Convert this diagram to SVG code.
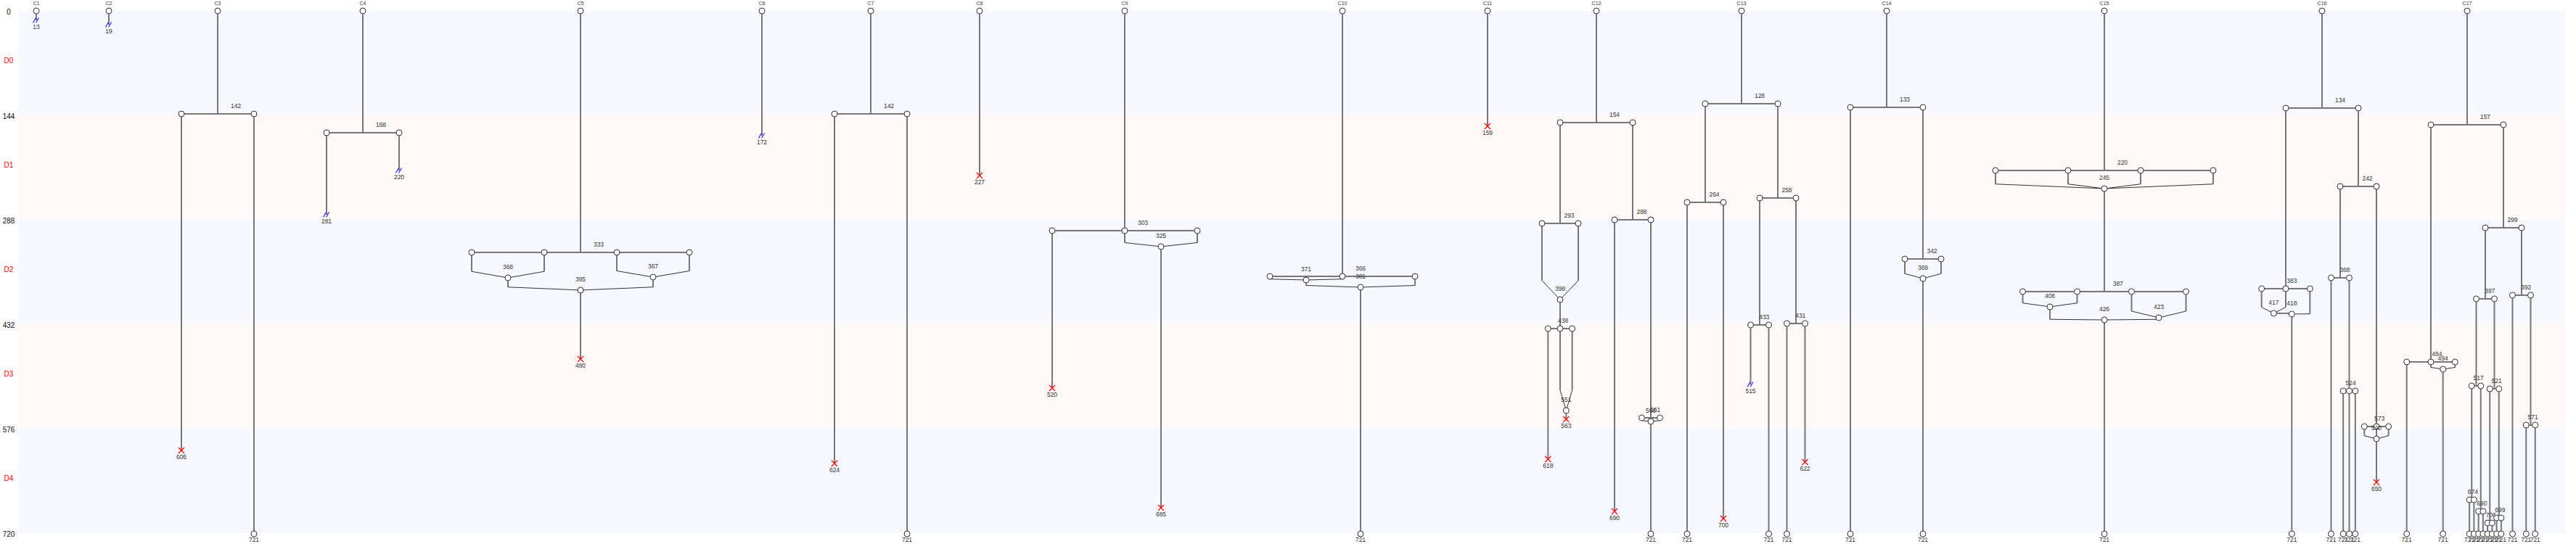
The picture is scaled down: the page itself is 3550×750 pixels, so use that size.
<svg xmlns="http://www.w3.org/2000/svg" width="3550" height="750" viewBox="0 0 3550 750">
<style>
.ba{fill:#f7f9ff}.bb{fill:#fffaf9}
.ln{stroke:#777;stroke-width:2;fill:none}
.mg{stroke:#333;stroke-width:1;fill:none}
.nd{fill:#fff;stroke:#333;stroke-width:1}
text{font-family:"Liberation Sans",Arial,sans-serif;text-anchor:middle}
.lb{font-size:8.5px;fill:#333}
.cl{font-size:7px;fill:#333}
.ax{font-size:10px;fill:#111}
.dx{font-size:10px;fill:#f00}
.sl{stroke:#22f;stroke-width:1.2;fill:none}
.cr{stroke:#f00;stroke-width:1.2;fill:none}
</style>
<defs>
<circle id="n" r="4" class="nd"/>
<path id="x" class="cr" d="M-4,-4L4,4M-4,4L4,-4"/>
<path id="s" class="sl" d="M-4.5,3.5L-0.5,-3.5M-0.5,3.5L3.5,-3.5"/>
</defs>
<g id="bands">
<rect class="ba" x="25" y="15" width="3510" height="144"/>
<rect class="bb" x="25" y="159" width="3510" height="144"/>
<rect class="ba" x="25" y="303" width="3510" height="144"/>
<rect class="bb" x="25" y="447" width="3510" height="144"/>
<rect class="ba" x="25" y="591" width="3510" height="144"/>
</g>
<g id="axis">
<text class="ax" x="12" y="19.5">0</text>
<text class="ax" x="12" y="163.5">144</text>
<text class="ax" x="12" y="307.5">288</text>
<text class="ax" x="12" y="451.5">432</text>
<text class="ax" x="12" y="595.5">576</text>
<text class="ax" x="12" y="739.5">720</text>
<text class="dx" x="12" y="87">D0</text>
<text class="dx" x="12" y="231">D1</text>
<text class="dx" x="12" y="375">D2</text>
<text class="dx" x="12" y="519">D3</text>
<text class="dx" x="12" y="663">D4</text>
</g>
<g id="connectors">
<path class="ln" d="M50,15V28M150,15V34
M300,15V157M250,157H350M250,157V621M350,157V736
M500,15V183M450,183H550M450,183V296M550,183V235
M800,15V348M650,348H950M650,348V374.25M750,348V374.25M850,348V373.5M950,348V373.5M700,383V395.75M900,382V395.75M800,400V495
M1050,15V187
M1200,15V157M1150,157H1250M1150,157V639M1250,157V736
M1350,15V242
M1550,15V318M1450,318H1650M1450,318V535M1550,318V334.5M1650,318V334.5M1600,340V700
M1850,15V381M1750,381H1950M1750,381V384.75M1850,381V384.75M1800,386V393.5M1950,381V393.5M1875,396V736
M2050,15V174
M2200,15V169M2150,169H2250M2150,169V308M2125,308H2175M2125,308V386.75M2175,308V386.75M2150,413V453M2133.33,453H2166.67M2133.33,453V633M2150,453V537.75M2166.67,453V537.75M2158.33,566V578
M2250,169V303M2225,303H2275M2225,303V705M2275,303V576M2262.5,576H2287.5M2262.5,576V579.75M2287.5,576V579.75M2275,576V736
M2400,15V143M2350,143H2450M2350,143V279M2325,279H2375M2325,279V736M2375,279V715M2450,143V273M2425,273H2475M2425,273V448M2412.5,448H2437.5M2412.5,448V530M2437.5,448V736M2475,273V446M2462.5,446H2487.5M2462.5,446V736M2487.5,446V637
M2600,15V148M2550,148H2650M2550,148V736M2650,148V357M2625,357H2675M2625,357V377.25M2675,357V377.25M2650,384V736
M2900,15V235M2750,235H3050M2750,235V253.75M2850,235V253.75M2950,235V253.75M3050,235V253.75M2900,260V402M2787.5,402H3012.5M2787.5,402V417.75M2862.5,402V417.75M2937.5,402V429M3012.5,402V429M2825,423V440.25M2975,438V440.25M2900,441V736
M3200,15V149M3150,149H3250M3150,149V398M3116.67,398H3183.33M3116.67,398V423.5M3150,398V423.5M3183.33,398V432.75M3133.33,432H3158.33M3158.33,433V736
M3250,149V257M3225,257H3275M3225,257V383M3212.5,383H3237.5M3212.5,383V736M3237.5,383V736M3229.17,539H3245.83M3229.17,539V736M3245.83,539V736
M3275,257V588M3258.33,588H3291.67M3258.33,588V600.75M3275,588V665M3291.67,588V600.75
M3400,15V172M3350,172H3450M3350,172V499M3316.67,499H3383.33M3316.67,499V736M3350,499V506.5M3383.33,499V506.5M3366.67,509V736
M3450,172V314M3425,314H3475M3425,314V412M3412.5,412H3437.5M3412.5,412V532M3406.25,532H3418.75M3406.25,532V689M3403.13,689H3409.38M3403.13,689V736M3409.38,689V736M3418.75,532V705M3415.63,705H3421.88M3415.63,705V736M3421.88,705V736
M3437.5,412V536M3431.25,536H3443.75M3431.25,536V721M3428.13,721H3434.38M3428.13,721V736M3434.38,721V736M3443.75,536V714M3440.63,714H3446.88M3440.63,714V736M3446.88,714V736
M3475,314V407M3462.5,407H3487.5M3462.5,407V736M3487.5,407V586M3481.25,586H3493.75M3481.25,586V736M3493.75,586V736"/>
<path class="mg" d="M650,374.25L700,383L750,374.25M850,373.5L900,382L950,373.5M700,395.75L800,400L900,395.75
M1550,334.5L1600,340L1650,334.5
M1750,384.75L1800,386L1850,384.75M1800,393.5L1875,396L1950,393.5
M2125,386.75L2150,413L2175,386.75M2150,537.75L2158.33,566L2166.67,537.75M2262.5,579.75L2275,581L2287.5,579.75
M2625,377.25L2650,384L2675,377.25
M2750,253.75L2900,260L3050,253.75M2850,253.75L2900,260L2950,253.75M2787.5,417.75L2825,423L2862.5,417.75M2937.5,429L2975,438L3012.5,429M2825,440.25L2900,441L2975,440.25
M3116.67,423.5L3133.33,432L3150,423.5M3183.33,432.75L3158.33,433M3258.33,600.75L3275,605L3291.67,600.75
M3350,506.5L3366.67,509L3383.33,506.5"/>
</g>
<g id="C1"><use href="#n" x="50" y="15"/><text class="cl" x="50" y="7">C1</text><use href="#s" x="50" y="28"/><text class="lb" x="50" y="39.5">13</text></g>
<g id="C2"><use href="#n" x="150" y="15"/><text class="cl" x="150" y="7">C2</text><use href="#s" x="150" y="34"/><text class="lb" x="150" y="45.5">19</text></g>
<g id="C3"><use href="#n" x="300" y="15"/><text class="cl" x="300" y="7">C3</text>
<use href="#n" x="250" y="157"/><use href="#n" x="350" y="157"/><text class="lb" x="325" y="149">142</text>
<use href="#x" x="250" y="621"/><text class="lb" x="250" y="632.5">606</text>
<use href="#n" x="350" y="736"/><text class="lb" x="350" y="747.3">721</text></g>
<g id="C4"><use href="#n" x="500" y="15"/><text class="cl" x="500" y="7">C4</text>
<use href="#n" x="450" y="183"/><use href="#n" x="550" y="183"/><text class="lb" x="525" y="175">168</text>
<use href="#s" x="450" y="296"/><text class="lb" x="450" y="307.5">281</text>
<use href="#s" x="550" y="235"/><text class="lb" x="550" y="246.5">220</text></g>
<g id="C5"><use href="#n" x="800" y="15"/><text class="cl" x="800" y="7">C5</text>
<use href="#n" x="650" y="348"/><use href="#n" x="750" y="348"/><use href="#n" x="850" y="348"/><use href="#n" x="950" y="348"/><text class="lb" x="825" y="340">333</text>
<use href="#n" x="700" y="383"/><text class="lb" x="700" y="371">368</text>
<use href="#n" x="900" y="382"/><text class="lb" x="900" y="370">367</text>
<use href="#n" x="800" y="400"/><text class="lb" x="800" y="388">385</text>
<use href="#x" x="800" y="495"/><text class="lb" x="800" y="506.5">480</text></g>
<g id="C6"><use href="#n" x="1050" y="15"/><text class="cl" x="1050" y="7">C6</text><use href="#s" x="1050" y="187"/><text class="lb" x="1050" y="198.5">172</text></g>
<g id="C7"><use href="#n" x="1200" y="15"/><text class="cl" x="1200" y="7">C7</text>
<use href="#n" x="1150" y="157"/><use href="#n" x="1250" y="157"/><text class="lb" x="1225" y="149">142</text>
<use href="#x" x="1150" y="639"/><text class="lb" x="1150" y="650.5">624</text>
<use href="#n" x="1250" y="736"/><text class="lb" x="1250" y="747.3">721</text></g>
<g id="C8"><use href="#n" x="1350" y="15"/><text class="cl" x="1350" y="7">C8</text><use href="#x" x="1350" y="242"/><text class="lb" x="1350" y="253.5">227</text></g>
<g id="C9"><use href="#n" x="1550" y="15"/><text class="cl" x="1550" y="7">C9</text>
<use href="#n" x="1450" y="318"/><use href="#n" x="1550" y="318"/><use href="#n" x="1650" y="318"/><text class="lb" x="1575" y="310">303</text>
<use href="#n" x="1600" y="340"/><text class="lb" x="1600" y="328">325</text>
<use href="#x" x="1450" y="535"/><text class="lb" x="1450" y="546.5">520</text>
<use href="#x" x="1600" y="700"/><text class="lb" x="1600" y="711.5">685</text></g>
<g id="C10"><use href="#n" x="1850" y="15"/><text class="cl" x="1850" y="7">C10</text>
<use href="#n" x="1750" y="381"/><use href="#n" x="1850" y="381"/><use href="#n" x="1950" y="381"/><text class="lb" x="1875" y="373">366</text>
<use href="#n" x="1800" y="386"/><text class="lb" x="1800" y="374">371</text>
<use href="#n" x="1875" y="396"/><text class="lb" x="1875" y="384">381</text>
<use href="#n" x="1875" y="736"/><text class="lb" x="1875" y="747.3">721</text></g>
<g id="C11"><use href="#n" x="2050" y="15"/><text class="cl" x="2050" y="7">C11</text><use href="#x" x="2050" y="174"/><text class="lb" x="2050" y="185.5">159</text></g>
<g id="C12"><use href="#n" x="2200" y="15"/><text class="cl" x="2200" y="7">C12</text>
<use href="#n" x="2150" y="169"/><use href="#n" x="2250" y="169"/><text class="lb" x="2225" y="161">154</text>
<use href="#n" x="2125" y="308"/><use href="#n" x="2175" y="308"/><text class="lb" x="2162.5" y="300">293</text>
<use href="#n" x="2150" y="413"/><text class="lb" x="2150" y="401">398</text>
<use href="#n" x="2133.33" y="453"/><use href="#n" x="2150" y="453"/><use href="#n" x="2166.67" y="453"/><text class="lb" x="2154.2" y="445">438</text>
<use href="#x" x="2133.33" y="633"/><text class="lb" x="2133.33" y="644.5">618</text>
<use href="#n" x="2158.33" y="566"/><text class="lb" x="2158.33" y="554">551</text>
<use href="#x" x="2158.33" y="578"/><text class="lb" x="2158.33" y="589.5">563</text>
<use href="#n" x="2225" y="303"/><use href="#n" x="2275" y="303"/><text class="lb" x="2262.5" y="295">288</text>
<use href="#x" x="2225" y="705"/><text class="lb" x="2225" y="716.5">690</text>
<use href="#n" x="2262.5" y="576"/><use href="#n" x="2287.5" y="576"/><text class="lb" x="2281.25" y="568">561</text>
<use href="#n" x="2275" y="581"/><text class="lb" x="2275" y="569">566</text>
<use href="#n" x="2275" y="736"/><text class="lb" x="2275" y="747.3">721</text></g>
<g id="C13"><use href="#n" x="2400" y="15"/><text class="cl" x="2400" y="7">C13</text>
<use href="#n" x="2350" y="143"/><use href="#n" x="2450" y="143"/><text class="lb" x="2425" y="135">128</text>
<use href="#n" x="2325" y="279"/><use href="#n" x="2375" y="279"/><text class="lb" x="2362.5" y="271">264</text>
<use href="#n" x="2325" y="736"/><text class="lb" x="2325" y="747.3">721</text>
<use href="#x" x="2375" y="715"/><text class="lb" x="2375" y="726.5">700</text>
<use href="#n" x="2425" y="273"/><use href="#n" x="2475" y="273"/><text class="lb" x="2462.5" y="265">258</text>
<use href="#n" x="2412.5" y="448"/><use href="#n" x="2437.5" y="448"/><text class="lb" x="2431.25" y="440">433</text>
<use href="#s" x="2412.5" y="530"/><text class="lb" x="2412.5" y="541.5">515</text>
<use href="#n" x="2437.5" y="736"/><text class="lb" x="2437.5" y="747.3">721</text>
<use href="#n" x="2462.5" y="446"/><use href="#n" x="2487.5" y="446"/><text class="lb" x="2481.25" y="438">431</text>
<use href="#n" x="2462.5" y="736"/><text class="lb" x="2462.5" y="747.3">721</text>
<use href="#x" x="2487.5" y="637"/><text class="lb" x="2487.5" y="648.5">622</text></g>
<g id="C14"><use href="#n" x="2600" y="15"/><text class="cl" x="2600" y="7">C14</text>
<use href="#n" x="2550" y="148"/><use href="#n" x="2650" y="148"/><text class="lb" x="2625" y="140">133</text>
<use href="#n" x="2550" y="736"/><text class="lb" x="2550" y="747.3">721</text>
<use href="#n" x="2625" y="357"/><use href="#n" x="2675" y="357"/><text class="lb" x="2662.5" y="349">342</text>
<use href="#n" x="2650" y="384"/><text class="lb" x="2650" y="372">369</text>
<use href="#n" x="2650" y="736"/><text class="lb" x="2650" y="747.3">721</text></g>
<g id="C15"><use href="#n" x="2900" y="15"/><text class="cl" x="2900" y="7">C15</text>
<use href="#n" x="2750" y="235"/><use href="#n" x="2850" y="235"/><use href="#n" x="2950" y="235"/><use href="#n" x="3050" y="235"/><text class="lb" x="2925" y="227">220</text>
<use href="#n" x="2900" y="260"/><text class="lb" x="2900" y="248">245</text>
<use href="#n" x="2787.5" y="402"/><use href="#n" x="2862.5" y="402"/><use href="#n" x="2937.5" y="402"/><use href="#n" x="3012.5" y="402"/><text class="lb" x="2918.75" y="394">387</text>
<use href="#n" x="2825" y="423"/><text class="lb" x="2825" y="411">408</text>
<use href="#n" x="2975" y="438"/><text class="lb" x="2975" y="426">423</text>
<use href="#n" x="2900" y="441"/><text class="lb" x="2900" y="429">426</text>
<use href="#n" x="2900" y="736"/><text class="lb" x="2900" y="747.3">721</text></g>
<g id="C16"><use href="#n" x="3200" y="15"/><text class="cl" x="3200" y="7">C16</text>
<use href="#n" x="3150" y="149"/><use href="#n" x="3250" y="149"/><text class="lb" x="3225" y="141">134</text>
<use href="#n" x="3116.67" y="398"/><use href="#n" x="3150" y="398"/><use href="#n" x="3183.33" y="398"/><text class="lb" x="3158.33" y="390">383</text>
<use href="#n" x="3133.33" y="432"/><text class="lb" x="3133.33" y="420">417</text>
<use href="#n" x="3158.33" y="433"/><text class="lb" x="3158.33" y="421">418</text>
<use href="#n" x="3158.33" y="736"/><text class="lb" x="3158.33" y="747.3">721</text>
<use href="#n" x="3225" y="257"/><use href="#n" x="3275" y="257"/><text class="lb" x="3262.5" y="249">242</text>
<use href="#n" x="3212.5" y="383"/><use href="#n" x="3237.5" y="383"/><text class="lb" x="3231.25" y="375">368</text>
<use href="#n" x="3212.5" y="736"/><text class="lb" x="3212.5" y="747.3">721</text>
<use href="#n" x="3229.17" y="539"/><use href="#n" x="3237.5" y="539"/><use href="#n" x="3245.83" y="539"/><text class="lb" x="3239.58" y="531">524</text>
<use href="#n" x="3229.17" y="736"/><use href="#n" x="3237.5" y="736"/><use href="#n" x="3245.83" y="736"/>
<text class="lb" x="3229.17" y="747.3">721</text><text class="lb" x="3237.5" y="747.3">721</text><text class="lb" x="3245.83" y="747.3">721</text>
<use href="#n" x="3258.33" y="588"/><use href="#n" x="3275" y="588"/><use href="#n" x="3291.67" y="588"/><text class="lb" x="3279.17" y="580">573</text>
<use href="#n" x="3275" y="605"/><text class="lb" x="3275" y="593">590</text>
<use href="#x" x="3275" y="665"/><text class="lb" x="3275" y="676.5">650</text></g>
<g id="C17"><use href="#n" x="3400" y="15"/><text class="cl" x="3400" y="7">C17</text>
<use href="#n" x="3350" y="172"/><use href="#n" x="3450" y="172"/><text class="lb" x="3425" y="164">157</text>
<use href="#n" x="3316.67" y="499"/><use href="#n" x="3350" y="499"/><use href="#n" x="3383.33" y="499"/><text class="lb" x="3358.33" y="491">484</text>
<use href="#n" x="3366.67" y="509"/><text class="lb" x="3366.67" y="497">494</text>
<use href="#n" x="3316.67" y="736"/><text class="lb" x="3316.67" y="747.3">721</text>
<use href="#n" x="3366.67" y="736"/><text class="lb" x="3366.67" y="747.3">721</text>
<use href="#n" x="3425" y="314"/><use href="#n" x="3475" y="314"/><text class="lb" x="3462.5" y="306">299</text>
<use href="#n" x="3412.5" y="412"/><use href="#n" x="3437.5" y="412"/><text class="lb" x="3431.25" y="404">397</text>
<use href="#n" x="3406.25" y="532"/><use href="#n" x="3418.75" y="532"/><text class="lb" x="3415.6" y="524">517</text>
<use href="#n" x="3403.13" y="689"/><use href="#n" x="3409.38" y="689"/><text class="lb" x="3407.8" y="681">674</text>
<use href="#n" x="3415.63" y="705"/><use href="#n" x="3421.88" y="705"/><text class="lb" x="3420.3" y="697">690</text>
<use href="#n" x="3431.25" y="536"/><use href="#n" x="3443.75" y="536"/><text class="lb" x="3440.6" y="528">521</text>
<use href="#n" x="3428.13" y="721"/><use href="#n" x="3434.38" y="721"/><text class="lb" x="3432.8" y="713">706</text>
<use href="#n" x="3440.63" y="714"/><use href="#n" x="3446.88" y="714"/><text class="lb" x="3445.3" y="706">699</text>
<use href="#n" x="3462.5" y="407"/><use href="#n" x="3487.5" y="407"/><text class="lb" x="3481.25" y="399">392</text>
<use href="#n" x="3481.25" y="586"/><use href="#n" x="3493.75" y="586"/><text class="lb" x="3490.6" y="578">571</text>
<use href="#n" x="3403.13" y="736"/><use href="#n" x="3409.38" y="736"/><use href="#n" x="3415.63" y="736"/><use href="#n" x="3421.88" y="736"/><use href="#n" x="3428.13" y="736"/><use href="#n" x="3434.38" y="736"/><use href="#n" x="3440.63" y="736"/><use href="#n" x="3446.88" y="736"/><use href="#n" x="3462.5" y="736"/><use href="#n" x="3481.25" y="736"/><use href="#n" x="3493.75" y="736"/>
<text class="lb" x="3403.13" y="747.3">721</text><text class="lb" x="3409.38" y="747.3">721</text><text class="lb" x="3415.63" y="747.3">721</text><text class="lb" x="3421.88" y="747.3">721</text><text class="lb" x="3428.13" y="747.3">721</text><text class="lb" x="3434.38" y="747.3">721</text><text class="lb" x="3440.63" y="747.3">721</text><text class="lb" x="3446.88" y="747.3">721</text><text class="lb" x="3462.5" y="747.3">721</text><text class="lb" x="3481.25" y="747.3">721</text><text class="lb" x="3493.75" y="747.3">721</text></g>
</svg>
